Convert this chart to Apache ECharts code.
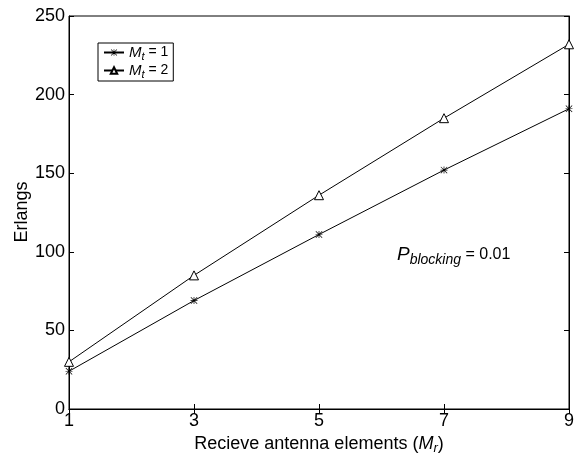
<!DOCTYPE html>
<html><head><meta charset="utf-8">
<script src="https://cdn.jsdelivr.net/npm/echarts@6/dist/echarts.min.js"></script>
<style>html,body{margin:0;padding:0;background:#fff}#c{width:584px;height:461px}</style>
</head><body><div id="c"></div>
<script>
const xVals = [1, 3, 5, 7, 9];
const mt1 = [24, 69, 111, 152, 191];
const mt2 = [30, 85, 136, 185, 232];
const xTicks = [1, 3, 5, 7, 9];
const yTicks = [0, 50, 100, 150, 200, 250];

const FONT = '"Liberation Sans", Arial, Helvetica, sans-serif';
const star = 'path://M4.5 0L5.5 0L5.5 10L4.5 10Z M0 4.5L10 4.5L10 5.5L0 5.5Z M0.8 0.1L9.9 9.2L9.2 9.9L0.1 0.8Z M9.2 0.1L9.9 0.8L0.8 9.9L0.1 9.2Z';

const chart = echarts.init(document.getElementById('c'));
const tickStyle = {show: true, inside: true, length: 5, lineStyle: {color: '#000', width: 1}};
chart.setOption({
  animation: false,
  backgroundColor: '#fff',
  textStyle: {fontFamily: FONT},
  grid: {left: 69, right: 15, top: 16, bottom: 52, containLabel: false, outerBoundsMode: 'none',
    show: true, borderColor: '#000', borderWidth: 1, backgroundColor: 'transparent'},
  legend: {
    left: 98, top: 43, orient: 'vertical', itemGap: 1, itemWidth: 20, itemHeight: 8,
    padding: [2, 5, 1, 5], borderColor: '#000', borderWidth: 1, backgroundColor: '#fff',
    data: ['mt1', 'mt2'],
    formatter: function (n) { return n === 'mt1' ? '{i|M}{s|t}{n| = 1}' : '{i|M}{s|t}{n| = 2}'; },
    textStyle: {
      fontFamily: FONT, color: '#000',
      rich: {
        i: {fontStyle: 'italic', fontSize: 15, fontFamily: FONT, color: '#000'},
        s: {fontStyle: 'italic', fontSize: 11, fontFamily: FONT, color: '#000', padding: [8, 0, 0, 0]},
        n: {fontSize: 14, fontFamily: FONT, color: '#000'}
      }
    }
  },
  xAxis: [{
    type: 'value', min: 1, max: 9, interval: 2,
    axisLine: {show: true, lineStyle: {color: '#000'}},
    axisTick: tickStyle, splitLine: {show: false},
    axisLabel: {color: '#000', fontSize: 18, fontFamily: FONT, margin: 3,
      formatter: v => xTicks.includes(v) ? String(v) : ''},
    name: '{a|Recieve antenna elements (}{i|M}{s|r}{a|)}',
    nameLocation: 'middle', nameGap: 24,
    nameTextStyle: {rich: {
      a: {fontSize: 18, fontFamily: FONT, color: '#000'},
      i: {fontSize: 18, fontStyle: 'italic', fontFamily: FONT, color: '#000'},
      s: {fontSize: 13, fontStyle: 'italic', fontFamily: FONT, color: '#000', padding: [9, 0, 0, 0]}
    }}
  }, {
    type: 'value', min: 1, max: 9, interval: 2, position: 'top',
    axisLine: {show: true, lineStyle: {color: '#000'}},
    axisTick: tickStyle, axisLabel: {show: false}, splitLine: {show: false}
  }],
  yAxis: [{
    type: 'value', min: 0, max: 250, interval: 50,
    axisLine: {show: true, lineStyle: {color: '#000'}},
    axisTick: tickStyle, splitLine: {show: false},
    axisLabel: {color: '#000', fontSize: 18, fontFamily: FONT, margin: 4,
      formatter: v => yTicks.includes(v) ? String(v) : ''}
  }, {
    type: 'value', min: 0, max: 250, interval: 50, position: 'right',
    axisLine: {show: true, lineStyle: {color: '#000'}},
    axisTick: tickStyle, axisLabel: {show: false}, splitLine: {show: false}
  }],
  graphic: [{
    type: 'text', x: 22, y: 212, rotation: Math.PI / 2,
    style: {text: 'Erlangs', fontSize: 18, fontFamily: FONT, fill: '#000', align: 'center', verticalAlign: 'middle'}
  }, {
    type: 'text', left: 397, top: 245,
    style: {
      text: '{i|P}{s|blocking}{n| = 0.01}',
      rich: {
        i: {fontStyle: 'italic', fontSize: 19, fontFamily: FONT, fill: '#000'},
        s: {fontStyle: 'italic', fontSize: 14, fontFamily: FONT, fill: '#000', padding: [11, 0, 0, 0]},
        n: {fontSize: 16, fontFamily: FONT, fill: '#000'}
      }
    }
  }],
  series: [{
    name: 'mt1', type: 'line', data: xVals.map((x, i) => [x, mt1[i]]),
    symbol: star, symbolSize: 7, showAllSymbol: true,
    lineStyle: {color: '#000', width: 1}, itemStyle: {color: '#000', borderWidth: 0}
  }, {
    name: 'mt2', type: 'line', data: xVals.map((x, i) => [x, mt2[i]]),
    symbol: 'triangle', symbolSize: 9, showAllSymbol: true,
    lineStyle: {color: '#000', width: 1}, itemStyle: {color: '#fff', borderColor: '#000', borderWidth: 1}
  }]
});
</script></body></html>
